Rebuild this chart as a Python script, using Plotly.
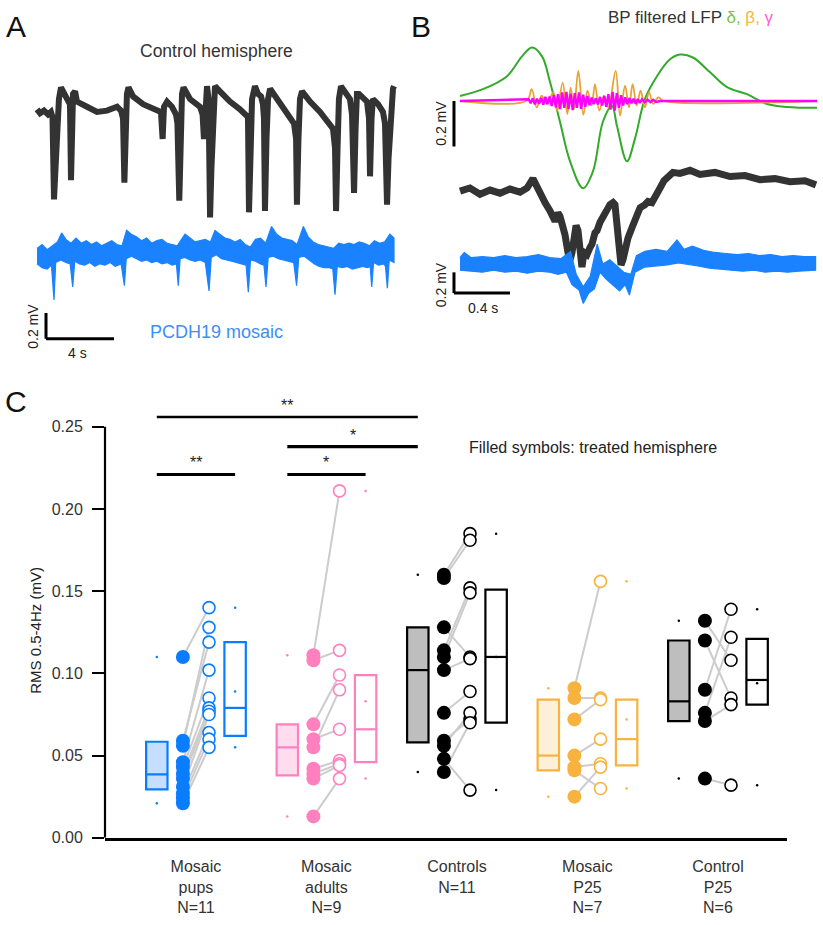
import plotly.graph_objects as go

W, H = 823, 925
FONT = "Liberation Sans, Arial, sans-serif"

# ---------------- Panel C data ----------------
groups = ["Mosaic<br>pups<br>N=11", "Mosaic<br>adults<br>N=9", "Controls<br>N=11",
          "Mosaic<br>P25<br>N=7", "Control<br>P25<br>N=6"]
# treated (filled) and untreated (open) hemisphere, paired by index
treated = [
    [0.110, 0.059, 0.056, 0.046, 0.043, 0.039, 0.036, 0.031, 0.027, 0.024, 0.021],
    [0.111, 0.108, 0.069, 0.060, 0.055, 0.042, 0.039, 0.036, 0.013],
    [0.160, 0.158, 0.128, 0.114, 0.110, 0.102, 0.076, 0.059, 0.056, 0.048, 0.040],
    [0.091, 0.085, 0.072, 0.050, 0.043, 0.041, 0.025],
    [0.132, 0.120, 0.090, 0.076, 0.071, 0.036],
]
untreated = [
    [0.140, 0.119, 0.128, 0.102, 0.085, 0.079, 0.077, 0.075, 0.064, 0.060, 0.055],
    [0.211, 0.114, 0.099, 0.066, 0.090, 0.047, 0.045, 0.044, 0.036],
    [0.185, 0.181, 0.110, 0.152, 0.149, 0.109, 0.089, 0.072, 0.076, 0.029, 0.070],
    [0.156, 0.085, 0.084, 0.060, 0.045, 0.030, 0.043],
    [0.108, 0.085, 0.139, 0.122, 0.081, 0.032],
]
treated_q1 = [0.0295, 0.038, 0.058, 0.041, 0.071]
treated_median = [0.0386, 0.055, 0.102, 0.050, 0.083]
treated_q3 = [0.0584, 0.069, 0.128, 0.084, 0.120]
treated_mean = [0.045, 0.060, 0.096, 0.058, 0.088]
untreated_q1 = [0.062, 0.046, 0.070, 0.044, 0.081]
untreated_median = [0.079, 0.066, 0.110, 0.060, 0.096]
untreated_q3 = [0.119, 0.099, 0.151, 0.084, 0.121]
untreated_mean = [0.089, 0.083, 0.110, 0.072, 0.094]

group_colors = ["#0A7DFF", "#FF80BF", "#000000", "#F7B33E", "#000000"]
box_fills = ["#C6DEFF", "#FFDDEE", "#BEBEBE", "#FDF0D9", "#BEBEBE"]

# comparisons: (group a, side a, group b, side b, label, level)
comparisons = [
    (0, "t", 2, "t", "**", 0.256),
    (1, "t", 2, "t", "*", 0.238),
    (0, "t", 0, "u", "**", 0.221),
    (1, "t", 1, "u", "*", 0.221),
]
y_ticks = [0.00, 0.05, 0.10, 0.15, 0.20, 0.25]

# ---------------- Panel A data (s, mV) ----------------
a_black_t = [0.00, 0.18, 0.41, 0.65, 0.82, 0.91, 1.00, 1.09, 1.18, 1.29, 1.41, 1.53, 1.65, 1.82, 1.94, 2.00,
             2.06, 2.12, 2.24, 2.35, 2.94, 3.53, 4.12, 4.71, 4.94, 5.06, 5.14, 5.21, 5.29, 5.38, 5.65, 6.24,
             6.82, 7.29, 7.39, 7.47, 7.65, 7.94, 8.18, 8.26, 8.37, 8.44, 8.53, 8.62, 9.00, 9.59, 9.74, 9.82,
             9.91, 10.00, 10.09, 10.18, 10.26, 10.35, 10.47, 10.76, 11.35, 11.94, 12.29, 12.41, 12.47, 12.56,
             12.65, 12.82, 13.00, 13.18, 13.29, 13.35, 13.41, 13.50, 13.59, 13.71, 14.12, 14.59, 14.94, 15.12,
             15.24, 15.29, 15.38, 15.47, 15.59, 16.06, 16.65, 17.12, 17.41, 17.53, 17.59, 17.68, 17.76, 17.88,
             18.12, 18.41, 18.53, 18.65, 18.74, 18.82, 18.94, 19.18, 19.41, 19.53, 19.59, 19.68, 19.76, 20.06,
             20.35, 20.47, 20.59, 20.68, 20.82, 20.94, 21.00]
a_black_v = [0.02, -0.01, 0.01, -0.02, 0.00, -0.04, -0.68, -0.36, -0.21, 0.10, 0.19, 0.16, 0.13, 0.10, 0.06, -0.53,
             -0.05, 0.14, 0.16, 0.08, 0.04, 0.00, 0.01, 0.04, 0.01, -0.05, -0.55, -0.13, 0.14, 0.19, 0.12, 0.06,
             0.02, 0.00, -0.21, 0.04, 0.08, 0.04, -0.02, -0.09, -0.69, -0.13, 0.14, 0.19, 0.10, 0.04, -0.02, -0.21,
             0.10, 0.20, 0.10, -0.82, -0.44, 0.02, 0.20, 0.16, 0.08, 0.02, -0.02, -0.04, -0.78, -0.21,
             0.10, 0.20, 0.14, 0.12, 0.06, -0.05, -0.77, -0.21, 0.10, 0.18, 0.10, 0.02, -0.04, -0.09,
             -0.21, -0.72, -0.21, 0.10, 0.16, 0.08, 0.00, -0.07, -0.13, -0.28, -0.77, -0.28, 0.10, 0.20,
             0.15, 0.10, -0.02, -0.63, -0.13, 0.14, 0.14, 0.10, 0.08, -0.05, -0.50, -0.05, 0.10, 0.06,
             0.00, -0.09, -0.72, -0.36, 0.02, 0.18, 0.20]
# PCDH19 mosaic trace: upper and lower edges of the noisy band
a_blue_up_t = [0.00, 0.30, 0.60, 0.90, 1.20, 1.45, 1.70, 2.00, 2.30, 2.60, 2.90, 3.20, 3.50, 3.80, 4.10, 4.40,
               4.70, 5.00, 5.27, 5.55, 5.85, 6.15, 6.45, 6.75, 7.05, 7.35, 7.65, 7.95, 8.25, 8.50, 8.71, 9.00,
               9.30, 9.60, 9.90, 10.20, 10.47, 10.75, 11.05, 11.35, 11.65, 11.95, 12.25, 12.55, 12.85, 13.15,
               13.45, 13.80, 14.10, 14.40, 14.70, 15.00, 15.30, 15.67, 15.95, 16.25, 16.55, 16.85, 17.15, 17.45,
               17.75, 18.05, 18.35, 18.65, 18.95, 19.25, 19.55, 19.85, 20.15, 20.45, 20.76, 21.00]
a_blue_up_v = [0.05, 0.08, 0.04, 0.07, 0.10, 0.17, 0.12, 0.09, 0.13, 0.09, 0.11, 0.08, 0.10, 0.07, 0.09, 0.11,
               0.08, 0.07, 0.19, 0.16, 0.14, 0.11, 0.13, 0.09, 0.11, 0.12, 0.09, 0.08, 0.07, 0.12, 0.16, 0.13,
               0.10, 0.11, 0.12, 0.10, 0.19, 0.16, 0.13, 0.12, 0.10, 0.12, 0.08, 0.06, 0.12, 0.13,
               0.09, 0.22, 0.16, 0.13, 0.12, 0.11, 0.08, 0.22, 0.14, 0.10, 0.08, 0.07, 0.06, 0.05,
               0.09, 0.08, 0.09, 0.08, 0.10, 0.09, 0.07, 0.11, 0.09, 0.10, 0.16, 0.13]
a_blue_lo_t = [0.00, 0.30, 0.60, 0.85, 1.00, 1.10, 1.40, 1.70, 1.95, 2.10, 2.22, 2.50, 2.80, 3.10, 3.40, 3.70,
               4.00, 4.30, 4.60, 4.95, 5.14, 5.25, 5.55, 5.85, 6.15, 6.45, 6.75, 7.05, 7.35, 7.65, 7.95, 8.20,
               8.31, 8.42, 8.70, 9.00, 9.30, 9.60, 9.90, 10.12, 10.25, 10.55, 10.85, 11.15, 11.45, 11.75, 12.05,
               12.30, 12.43, 12.56, 12.85, 13.15, 13.35, 13.47, 13.60, 13.90, 14.20, 14.50, 14.80, 15.10, 15.27,
               15.40, 15.70, 16.00, 16.30, 16.60, 16.90, 17.20, 17.40, 17.53, 17.66, 17.95, 18.25, 18.55, 18.85,
               19.15, 19.45, 19.60, 19.69, 19.80, 20.10, 20.40, 20.50, 20.61, 20.72, 21.00]
a_blue_lo_v = [-0.07, -0.10, -0.11, -0.08, -0.35, -0.06, -0.04, -0.06, -0.07, -0.25, -0.05, -0.07, -0.08, -0.06,
               -0.09, -0.07, -0.08, -0.06, -0.09, -0.07, -0.24, -0.03, -0.01, -0.03, -0.05, -0.04, -0.06, -0.05,
               -0.07, -0.06, -0.08, -0.07, -0.24, -0.03, -0.02, -0.04, -0.05, -0.04, -0.06, -0.28, -0.02, 0.00,
               -0.03, -0.04, -0.05, -0.06, -0.07, -0.08, -0.29, -0.04, -0.05, -0.07, -0.08, -0.25, -0.02, -0.01,
               -0.03, -0.04, -0.05, -0.06, -0.24, -0.02, -0.01, -0.04, -0.07, -0.09, -0.10, -0.10, -0.11, -0.31,
               -0.09, -0.10, -0.09, -0.11, -0.10, -0.09, -0.10, -0.09, -0.25, -0.06, -0.08, -0.07, -0.09, -0.26,
               -0.04, -0.06]
a_blue_offset = -1.11

# ---------------- Panel B data (s, mV) ----------------
delta_t = [0.000, 0.164, 0.336, 0.443, 0.514, 0.586, 0.643, 0.714, 0.786, 0.879, 0.950, 1.021, 1.086, 1.121,
           1.193, 1.250, 1.321, 1.407, 1.500, 1.571, 1.664, 1.786, 1.907, 2.050, 2.193, 2.336, 2.550]
delta_v = [0.022, 0.052, 0.109, 0.196, 0.235, 0.196, 0.083, -0.091, -0.265, -0.383, -0.309, -0.091, -0.022,
           -0.109, -0.265, -0.165, 0.009, 0.109, 0.183, 0.204, 0.191, 0.126, 0.061, 0.030, -0.013, -0.026, -0.030]
beta_t = [0.000, 0.476, 0.512, 0.548, 0.583, 0.619, 0.667, 0.695, 0.733, 0.767, 0.790, 0.814, 0.845, 0.881,
          0.910, 0.940, 0.964, 0.995, 1.029, 1.060, 1.112, 1.143, 1.179, 1.207, 1.233, 1.262, 1.290, 1.321,
          1.350, 1.381, 1.417, 1.452, 2.550]
beta_v = [0.000, 0.001, 0.052, -0.028, 0.023, -0.013, 0.038, -0.042, 0.081, -0.057, 0.059, -0.035, 0.132, -0.061,
          0.045, -0.020, 0.074, -0.042, 0.023, -0.028, 0.132, -0.064, 0.067, -0.028, 0.074, -0.020, 0.045, -0.028,
          0.038, -0.013, 0.016, 0.001, 0.000]
gamma_t = [0.000, 0.490, 0.505, 0.520, 0.535, 0.550, 0.565, 0.580, 0.595, 0.610, 0.625, 0.640, 0.655, 0.670,
           0.685, 0.700, 0.715, 0.730, 0.745, 0.760, 0.775, 0.790, 0.805, 0.820, 0.835, 0.850, 0.865, 0.880,
           0.895, 0.910, 0.925, 0.940, 0.955, 0.970, 0.985, 1.000, 1.015, 1.030, 1.045, 1.060, 1.075, 1.090,
           1.105, 1.120, 1.135, 1.150, 1.165, 1.180, 1.195, 1.210, 1.225, 1.240, 1.255, 1.270, 1.285, 1.300,
           1.320, 1.340, 1.360, 1.380, 1.400, 1.430, 2.550]
gamma_v = [0.000, 0.008, -0.010, 0.012, -0.015, 0.010, -0.012, 0.014, -0.016, 0.018, -0.014, 0.020, -0.022, 0.025,
           -0.028, 0.030, -0.035, 0.038, -0.030, 0.040, -0.036, 0.032, -0.040, 0.035, -0.030, 0.038, -0.034, 0.028,
           -0.025, 0.022, -0.018, 0.015, -0.014, 0.012, -0.015, 0.018, -0.020, 0.022, -0.025, 0.030, -0.038, 0.040,
           -0.042, 0.035, -0.030, 0.025, -0.020, 0.016, -0.014, 0.012, -0.010, 0.010, -0.012, 0.009, -0.008, 0.008,
           -0.006, 0.006, -0.005, 0.005, -0.004, 0.000, 0.000]
b_black_t = [0.000, 0.071, 0.143, 0.214, 0.286, 0.357, 0.429, 0.479, 0.521, 0.550, 0.571, 0.607, 0.643, 0.679,
             0.700, 0.714, 0.736, 0.750, 0.771, 0.786, 0.800, 0.814, 0.829, 0.843, 0.857, 0.871, 0.886, 0.907,
             0.929, 0.943, 0.964, 0.979, 1.000, 1.021, 1.050, 1.071, 1.093, 1.107, 1.121, 1.136, 1.150, 1.164,
             1.179, 1.200, 1.229, 1.257, 1.286, 1.321, 1.343, 1.371, 1.400, 1.429, 1.457, 1.486, 1.521, 1.571,
             1.643, 1.714, 1.821, 1.929, 2.036, 2.143, 2.250, 2.357, 2.464, 2.543]
b_black_v = [0.00, 0.03, -0.03, 0.01, -0.02, 0.02, -0.01, 0.03, 0.12, 0.03, -0.04, -0.11, -0.19, -0.29,
             -0.21, -0.24, -0.35, -0.42, -0.59, -0.66, -0.59, -0.45, -0.33, -0.38, -0.54, -0.73, -0.59, -0.61,
             -0.54, -0.51, -0.40, -0.38, -0.30, -0.26, -0.18, -0.13, -0.11, -0.13, -0.30, -0.54, -0.71, -0.66,
             -0.54, -0.45, -0.35, -0.24, -0.16, -0.13, -0.10, -0.11, -0.05, 0.03, 0.10, 0.14, 0.18, 0.17,
             0.20, 0.16, 0.18, 0.14, 0.15, 0.11, 0.12, 0.09, 0.10, 0.06]
b_blue_up_t = [0.00, 0.03, 0.08, 0.16, 0.24, 0.32, 0.40, 0.48, 0.56, 0.64, 0.72, 0.79, 0.83, 0.88, 0.93, 0.98,
               1.02, 1.07, 1.12, 1.17, 1.22, 1.26, 1.32, 1.40, 1.48, 1.55, 1.60, 1.66, 1.74, 1.82, 1.90, 1.98,
               2.06, 2.14, 2.22, 2.30, 2.38, 2.46, 2.54]
b_blue_up_v = [0.06, 0.11, 0.06, 0.07, 0.06, 0.08, 0.06, 0.07, 0.09, 0.06, 0.05, 0.12, -0.10, -0.22, -0.12, 0.19,
               0.00, 0.04, -0.02, -0.08, -0.10, 0.08, 0.12, 0.14, 0.12, 0.23, 0.14, 0.17, 0.13, 0.11, 0.10, 0.09,
               0.10, 0.08, 0.09, 0.07, 0.08, 0.07, 0.07]
b_blue_lo_t = [0.00, 0.08, 0.16, 0.24, 0.32, 0.40, 0.48, 0.56, 0.64, 0.70, 0.76, 0.80, 0.85, 0.88, 0.92, 0.96,
               1.00, 1.04, 1.09, 1.14, 1.18, 1.21, 1.25, 1.32, 1.40, 1.48, 1.56, 1.62, 1.70, 1.78, 1.86, 1.94,
               2.02, 2.10, 2.18, 2.26, 2.34, 2.42, 2.54]
b_blue_lo_v = [-0.06, -0.07, -0.08, -0.06, -0.08, -0.07, -0.09, -0.07, -0.08, -0.10, -0.08, -0.20, -0.25, -0.38,
               -0.28, -0.24, -0.08, -0.14, -0.20, -0.26, -0.20, -0.30, -0.08, -0.03, -0.02, -0.01, 0.01, 0.00,
               -0.02, -0.04, -0.05, -0.06, -0.07, -0.06, -0.08, -0.07, -0.08, -0.07, -0.06]
b_blue_offset = -0.70

fig = go.Figure()

# ---------------- Panel C traces ----------------
dx_box, dx_pts, box_half = 0.30, 0.10, 0.082
for g in range(len(groups)):
    pos = g + 1
    lx, ly = [], []
    for a, b in zip(treated[g], untreated[g]):
        lx += [pos - dx_pts, pos + dx_pts, None]
        ly += [a, b, None]
    fig.add_trace(go.Scatter(x=lx, y=ly, mode="lines", line=dict(color="#CCCCCC", width=2),
                             hoverinfo="skip", showlegend=False))
for g in range(len(groups)):
    pos = g + 1
    col = group_colors[g]
    fig.add_trace(go.Scatter(x=[pos - dx_pts] * len(treated[g]), y=treated[g], mode="markers",
                             marker=dict(size=14, color=col, line=dict(width=0)), showlegend=False))
    fig.add_trace(go.Scatter(x=[pos + dx_pts] * len(untreated[g]), y=untreated[g], mode="markers",
                             marker=dict(size=12, color="white", line=dict(width=1.6, color=col)),
                             showlegend=False))
    for side, q1, med, q3, mean, vals, fill in [
        (-1, treated_q1[g], treated_median[g], treated_q3[g], treated_mean[g], treated[g], box_fills[g]),
        (1, untreated_q1[g], untreated_median[g], untreated_q3[g], untreated_mean[g], untreated[g], "rgba(0,0,0,0)"),
    ]:
        cx = pos + side * dx_box
        fig.add_shape(type="rect", xref="x", yref="y", x0=cx - box_half, x1=cx + box_half, y0=q1, y1=q3,
                      fillcolor=fill, line=dict(color=col, width=2.2))
        fig.add_shape(type="line", xref="x", yref="y", x0=cx - box_half, x1=cx + box_half, y0=med, y1=med,
                      line=dict(color=col, width=2.2))
        fig.add_trace(go.Scatter(x=[cx, cx, cx], y=[mean, min(vals), max(vals)], mode="markers",
                                 marker=dict(size=2.5, color=col), showlegend=False, hoverinfo="skip"))

# y axis line (0 to 0.25)
fig.add_shape(type="line", xref="x domain", yref="y", x0=0, x1=0, y0=0, y1=0.25,
              line=dict(color="black", width=2.2))
# significance bars, from box centre to box centre
for ga, sa, gb, sb, lab, lev in comparisons:
    xa = ga + 1 + (-dx_box if sa == "t" else dx_box)
    xb = gb + 1 + (-dx_box if sb == "t" else dx_box)
    fig.add_shape(type="line", xref="x", yref="y", x0=xa, x1=xb, y0=lev, y1=lev,
                  line=dict(color="black", width=3.2 if lev < 0.25 else 2.6))
    fig.add_annotation(x=(xa + xb) / 2, y=lev, xref="x", yref="y", text=lab, showarrow=False,
                       yanchor="bottom", yshift=1, font=dict(size=16, color="#222", family=FONT))

# ---------------- Panel A traces ----------------
BLUE = "#1A82FF"
fig.add_trace(go.Scatter(x=a_black_t, y=a_black_v, mode="lines", line=dict(color="#333333", width=6),
                         xaxis="x2", yaxis="y2", showlegend=False))
fig.add_trace(go.Scatter(x=a_blue_up_t + a_blue_lo_t[::-1],
                         y=[v + a_blue_offset for v in a_blue_up_v + a_blue_lo_v[::-1]],
                         mode="lines", fill="toself", fillcolor=BLUE, line=dict(color=BLUE, width=1.2),
                         xaxis="x2", yaxis="y2", showlegend=False))
fig.add_shape(type="line", xref="x2", yref="y2", x0=0.53, x1=0.53, y0=-1.562, y1=-1.762,
              line=dict(color="black", width=3))
fig.add_shape(type="line", xref="x2", yref="y2", x0=0.53, x1=4.53, y0=-1.762, y1=-1.762,
              line=dict(color="black", width=3))

# ---------------- Panel B traces ----------------
fig.add_trace(go.Scatter(x=delta_t, y=delta_v, mode="lines", line=dict(color="#33AA2A", width=2, shape="spline"),
                         xaxis="x3", yaxis="y3", showlegend=False))
fig.add_trace(go.Scatter(x=beta_t, y=beta_v, mode="lines", line=dict(color="#E8A336", width=1.8, shape="spline"),
                         xaxis="x3", yaxis="y3", showlegend=False))
fig.add_trace(go.Scatter(x=gamma_t, y=gamma_v, mode="lines", line=dict(color="#FF00FF", width=2.4),
                         xaxis="x3", yaxis="y3", showlegend=False))
fig.add_trace(go.Scatter(x=b_black_t, y=b_black_v, mode="lines", line=dict(color="#333333", width=7),
                         xaxis="x3", yaxis="y4", showlegend=False))
fig.add_trace(go.Scatter(x=b_blue_up_t + b_blue_lo_t[::-1],
                         y=[v + b_blue_offset for v in b_blue_up_v + b_blue_lo_v[::-1]],
                         mode="lines", fill="toself", fillcolor=BLUE, line=dict(color=BLUE, width=1.2),
                         xaxis="x3", yaxis="y4", showlegend=False))
fig.add_shape(type="line", xref="x3", yref="y3", x0=-0.043, x1=-0.043, y0=0, y1=-0.2,
              line=dict(color="black", width=3))
fig.add_shape(type="line", xref="x3", yref="y4", x0=-0.043, x1=-0.043, y0=-0.781, y1=-0.981,
              line=dict(color="black", width=3))
fig.add_shape(type="line", xref="x3", yref="y4", x0=-0.043, x1=0.357, y0=-0.981, y1=-0.981,
              line=dict(color="black", width=3))


def px(x):
    return x / W


def py(y):
    return 1 - y / H


texts = [
    ("A", 16, 27, 30, "#111", 0), ("B", 421, 27, 30, "#111", 0), ("C", 16, 405, 30, "#111", 0),
    ("Control hemisphere", 216, 52, 17.5, "#333", 0),
    ("PCDH19 mosaic", 216, 335, 18, "#3D8EF7", 0),
    ("0.2 mV", 33, 330, 14, "#222", -90), ("4 s", 77, 356, 14, "#222", 0),
    ("0.2 mV", 441, 125, 14, "#222", -90), ("0.2 mV", 441, 288, 14, "#222", -90), ("0.4 s", 483, 311, 14, "#222", 0),
    ("BP filtered LFP <span style='color:#7CC242'>δ,</span> <span style='color:#F5B43C'>β,</span> "
     "<span style='color:#FF5CD6'>γ</span>", 691, 18, 17, "#333", 0),
    ("Filled symbols: treated hemisphere", 593, 452, 16, "#222", 0),
    ("RMS 0.5-4Hz (mV)", 36, 637, 15, "#222", -90),
]
for t, x, y, s, c, ang in texts:
    fig.add_annotation(x=px(x), y=py(y), xref="paper", yref="paper", text=t, showarrow=False,
                       xanchor="center", yanchor="middle", textangle=ang,
                       font=dict(size=s, color=c, family=FONT))

fig.update_layout(
    width=W, height=H, margin=dict(l=0, r=0, t=0, b=0),
    paper_bgcolor="white", plot_bgcolor="white", showlegend=False,
    font=dict(family=FONT, color="#222"),
    xaxis=dict(domain=[105 / W, 787 / W], range=[0.303, 5.529], tickvals=[1, 2, 3, 4, 5], ticktext=groups,
               showline=True, linecolor="black", linewidth=2.5, ticks="", showgrid=False, zeroline=False,
               tickfont=dict(size=16, color="#333", family=FONT), ticklabelstandoff=12, anchor="y"),
    yaxis=dict(domain=[py(846), py(397.8)], range=[0, 0.27], tickvals=y_ticks, tickformat=".2f",
               showline=False, ticks="outside", ticklen=12, tickwidth=2, tickcolor="black",
               showgrid=False, zeroline=False, tickfont=dict(size=16, color="#333", family=FONT),
               ticklabelstandoff=6, anchor="x"),
    xaxis2=dict(domain=[30 / W, 400 / W], range=[(30 - 37) / 17, (400 - 37) / 17], visible=False, anchor="y2"),
    yaxis2=dict(domain=[py(350), py(70)], range=[0.331 - 280 / 130, 0.331], visible=False, anchor="x2"),
    xaxis3=dict(domain=[450 / W, 820 / W], range=[-10 / 140, 360 / 140], visible=False, anchor="y3"),
    yaxis3=dict(domain=[py(320), py(40)], range=[62 / 230 - 280 / 230, 62 / 230], visible=False, anchor="x3"),
    yaxis4=dict(domain=[py(320), py(40)], range=[153 / 105 - 280 / 105, 153 / 105], visible=False,
                anchor="x3", overlaying="y3"),
)

fig.write_html("out.html", config={"displayModeBar": False},
               post_script="document.body.style.margin='0px';")
